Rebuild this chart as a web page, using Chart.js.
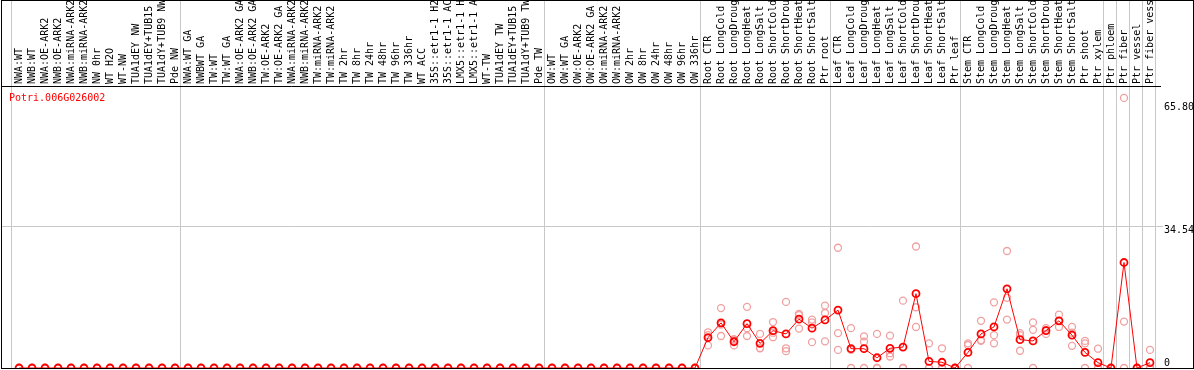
<!DOCTYPE html>
<html>
<head>
<meta charset="utf-8">
<script src="https://cdn.jsdelivr.net/npm/chart.js@4.4.1/dist/chart.umd.min.js"></script>
<style>
  body { margin: 0; background: #fff; }
</style>
</head>
<body>
<canvas id="chart" width="1194" height="370"></canvas>
<script>
// Gene shown in the chart
const geneId = "Potri.006G026002";

// Sample names, in plot order
const categories = [
    "NWA:WT", "NWB:WT", "NWA:OE-ARK2", "NWB:OE-ARK2", "NWA:miRNA-ARK2", "NWB:miRNA-ARK2",
    "NW 0hr", "WT H2O", "WT-NW", "TUA1dEY NW", "TUA1dEY+TUB15 NW", "TUA1dY+TUB9 NW", "Pde NW",
    "NWA:WT GA", "NWBWT GA", "TW:WT", "TW:WT GA", "NWA:OE-ARK2 GA", "NWB:OE-ARK2 GA",
    "TW:OE-ARK2", "TW:OE-ARK2 GA", "NWA:miRNA-ARK2", "NWB:miRNA-ARK2", "TW:miRNA-ARK2", "TW:miRNA-ARK2",
    "TW 2hr", "TW 8hr", "TW 24hr", "TW 48hr", "TW 96hr", "TW 336hr", "WT ACC",
    "35S::etr1-1 H2O", "35S::etr1-1 ACC", "LMX5::etr1-1 H2O", "LMX5::etr1-1 ACC",
    "WT-TW", "TUA1dEY TW", "TUA1dEY+TUB15 TW", "TUA1dY+TUB9 TW", "Pde TW",
    "OW:WT", "OW:WT GA", "OW:OE-ARK2", "OW:OE-ARK2 GA", "OW:miRNA-ARK2", "OW:miRNA-ARK2",
    "OW 2hr", "OW 8hr", "OW 24hr", "OW 48hr", "OW 96hr", "OW 336hr",
    "Root CTR", "Root LongCold", "Root LongDrought", "Root LongHeat", "Root LongSalt",
    "Root ShortCold", "Root ShortDrought", "Root ShortHeat", "Root ShortSalt", "Ptr root",
    "Leaf CTR", "Leaf LongCold", "Leaf LongDrought", "Leaf LongHeat", "Leaf LongSalt",
    "Leaf ShortCold", "Leaf ShortDrought", "Leaf ShortHeat", "Leaf ShortSalt", "Ptr leaf",
    "Stem CTR", "Stem LongCold", "Stem LongDrought", "Stem LongHeat", "Stem LongSalt",
    "Stem ShortCold", "Stem ShortDrought", "Stem ShortHeat", "Stem ShortSalt", "Ptr shoot",
    "Ptr xylem", "Ptr phloem", "Ptr fiber", "Ptr vessel", "Ptr fiber vessel"
];

// First sample of each group (a grey line is drawn between groups)
const groupStarts = [0, 13, 41, 53, 63, 73, 84, 85, 86, 87];

// Mean expression per sample
const means = [
    0, 0, 0, 0, 0, 0, 0, 0, 0, 0,
    0, 0, 0, 0, 0, 0, 0, 0, 0, 0,
    0, 0, 0, 0, 0, 0, 0, 0, 0, 0,
    0, 0, 0, 0, 0, 0, 0, 0, 0, 0,
    0, 0, 0, 0, 0, 0, 0, 0, 0, 0,
    0, 0, 0,
    7.4, 11.0, 6.4, 10.8, 6.0, 9.1, 8.3, 11.9, 9.7, 11.7,
    14.1, 4.7, 4.7, 2.5, 4.8, 5.1, 18.1, 1.6, 1.4, 0,
    3.8, 8.3, 10.0, 19.3, 6.9, 6.6, 9.1, 11.5, 8.0, 3.8, 1.3,
    0, 25.7, 0, 1.3
];

// Replicate values per sample
const rep1 = [
    0, 0, 0, 0, 0, 0, 0, 0, 0, 0,
    0, 0, 0, 0, 0, 0, 0, 0, 0, 0,
    0, 0, 0, 0, 0, 0, 0, 0, 0, 0,
    0, 0, 0, 0, 0, 0, 0, 0, 0, 0,
    0, 0, 0, 0, 0, 0, 0, 0, 0, 0,
    0, 0, 0,
    8.7, 14.6, 5.5, 14.9, 8.3, 11.2, 16.1, 13.2, 11.8, 15.2,
    29.3, 9.7, 7.7, 8.3, 7.9, 16.4, 29.6, 6.0, 4.8, 0,
    6.0, 11.5, 16.0, 28.5, 8.5, 11.1, 9.7, 13.0, 10.0, 6.6, 4.7,
    0, 65.8, 0, 4.4
];
const rep2 = [
    0, 0, 0, 0, 0, 0, 0, 0, 0, 0,
    0, 0, 0, 0, 0, 0, 0, 0, 0, 0,
    0, 0, 0, 0, 0, 0, 0, 0, 0, 0,
    0, 0, 0, 0, 0, 0, 0, 0, 0, 0,
    0, 0, 0, 0, 0, 0, 0, 0, 0, 0,
    0, 0, 0,
    5.5, 7.8, 7.0, 7.8, 4.8, 7.5, 4.8, 9.6, 11.1, 13.4,
    8.5, 0, 6.4, 0, 3.6, 0, 14.8, 0, 0, 0,
    5.6, 6.6, 8.0, 17.1, 8.0, 9.3, 9.3, 11.5, 5.4, 6.0, 0,
    0, 11.3, 0, 0
];
const rep3 = [
    0, 0, 0, 0, 0, 0, 0, 0, 0, 0,
    0, 0, 0, 0, 0, 0, 0, 0, 0, 0,
    0, 0, 0, 0, 0, 0, 0, 0, 0, 0,
    0, 0, 0, 0, 0, 0, 0, 0, 0, 0,
    0, 0, 0, 0, 0, 0, 0, 0, 0, 0,
    0, 0, 0,
    8.0, 10.6, 6.7, 9.7, 4.9, 8.6, 4.1, 12.9, 6.3, 6.5,
    4.4, 4.4, 0, 0, 2.8, 0, 10.0, 0, 0, 0,
    0, 6.8, 6.0, 11.8, 4.2, 0, 8.3, 10.0, 8.6, 0, 0,
    0, 0, 0, 0
];

// Labels on the right hand axis
const yTicks = [0, 34.54, 65.80];

// Grey separators sit just before each group start, plus one after the last sample
const boundaries = groupStarts.map(s => s - 0.58).concat([categories.length - 0.55]);
const xTickValues = categories.map((c, i) => i).concat(boundaries).sort((a, b) => a - b);

const monoFont = { family: "DejaVu Sans Mono", size: 10 };

function toPoints(values) {
    return values.map((v, i) => ({ x: i, y: v }));
}

function replicateSet(values) {
    return {
        data: toPoints(values),
        showLine: false,
        pointRadius: 3.5,
        pointBorderWidth: 1.3,
        pointBorderColor: "#f0a0a0",
        pointBackgroundColor: "rgba(0,0,0,0)"
    };
}

// Frame, gene name and right axis labels
const decorPlugin = {
    id: "decor",
    afterDraw(chart) {
        const ctx = chart.ctx;
        const area = chart.chartArea;
        const yScale = chart.scales.y;
        const shifts = [-5, 4, 10];

        ctx.save();
        ctx.strokeStyle = "#000";
        ctx.lineWidth = 1;
        ctx.strokeRect(1.5, 0.5, 1192, 368);

        ctx.font = '10px "DejaVu Sans Mono"';
        ctx.textAlign = "left";
        ctx.fillStyle = "#ff0000";
        ctx.textBaseline = "alphabetic";
        ctx.fillText(geneId, area.left + 7, area.top + 15);

        ctx.fillStyle = "#000";
        ctx.textBaseline = "middle";
        yTicks.forEach((v, i) => {
            const label = v === 0 ? "0" : v.toFixed(2);
            ctx.fillText(label, area.right + 4, yScale.getPixelForValue(v) + shifts[i]);
        });
        ctx.restore();
    }
};

new Chart(document.getElementById("chart"), {
    type: "scatter",
    data: {
        datasets: [
            {
                data: toPoints(means),
                showLine: true,
                borderColor: "#ff0000",
                borderWidth: 1,
                tension: 0,
                pointRadius: 3.5,
                pointBorderWidth: 1.8,
                pointBorderColor: "#ff0000",
                pointBackgroundColor: "rgba(0,0,0,0)"
            },
            replicateSet(rep1),
            replicateSet(rep2),
            replicateSet(rep3)
        ]
    },
    options: {
        responsive: false,
        animation: false,
        layout: { autoPadding: false, padding: { left: 2, right: 0, top: 0, bottom: 2 } },
        plugins: {
            legend: { display: false },
            tooltip: { enabled: false }
        },
        scales: {
            x: {
                type: "linear",
                position: "top",
                min: -1.31,
                max: 87.77,
                afterBuildTicks: scale => {
                    scale.ticks = xTickValues.map(v => ({ value: v }));
                },
                afterFit: scale => {
                    scale.height = 86;
                    scale.paddingLeft = 0;
                    scale.paddingRight = 0;
                },
                ticks: {
                    autoSkip: false,
                    minRotation: 90,
                    maxRotation: 90,
                    padding: -84,
                    labelOffset: 12.5,
                    color: "#000",
                    font: monoFont,
                    callback: v => Number.isInteger(v) ? categories[v] : ""
                },
                grid: {
                    color: ctx => ctx.tick && boundaries.includes(ctx.tick.value) ? "#c8c8c8" : "rgba(0,0,0,0)",
                    lineWidth: 1,
                    drawTicks: true,
                    tickLength: 86
                },
                border: { display: true, color: "#000", width: 1 }
            },
            y: {
                type: "linear",
                position: "right",
                min: 0,
                max: 68.7,
                afterBuildTicks: scale => {
                    scale.ticks = yTicks.map(v => ({ value: v }));
                },
                afterFit: scale => {
                    scale.width = 34;
                    scale.paddingTop = 0;
                    scale.paddingBottom = 0;
                },
                ticks: { display: false },
                grid: {
                    color: ctx => ctx.tick && ctx.tick.value === 34.54 ? "#c8c8c8" : "rgba(0,0,0,0)",
                    tickLength: 3
                },
                border: { display: false }
            }
        }
    },
    plugins: [decorPlugin]
});
</script>
</body>
</html>
